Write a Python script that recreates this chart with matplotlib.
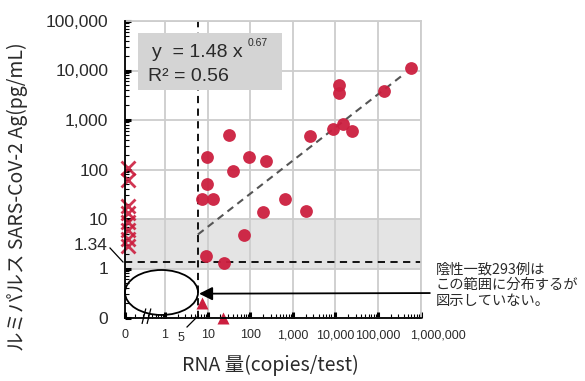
import numpy as np
import matplotlib
matplotlib.use("Agg")
import matplotlib.pyplot as plt
from matplotlib import font_manager
from matplotlib.patches import Ellipse, Rectangle
from matplotlib.lines import Line2D
from matplotlib.transforms import ScaledTranslation
from matplotlib.ticker import FixedLocator, LogLocator, NullFormatter, FixedFormatter

# ---------------- data ----------------
# positive cases (RNA copies/test, antigen pg/mL)
rna_pos = [5.8e5, 1.36e5, 1.2e4, 1.2e4, 8650, 1.49e4, 2.41e4, 2500, 32, 9.6, 93,
           230, 39, 9.6, 7.4, 13.3, 650, 198, 2015, 71, 9.1, 24]
ag_pos = [11200, 3830, 5060, 3490, 651, 822, 593, 470, 492, 177, 177,
          147, 92, 50, 25, 25, 25, 13.6, 14.3, 4.66, 1.83, 1.32]
# RNA = 0 but antigen detected (crosses)
rna_x = [0, 0, 0, 0, 0, 0, 0, 0]
ag_x = [106, 62, 18, 13, 8.5, 5.9, 4.0, 2.8]
# RNA detected, antigen below 1 / 0 (triangles)
rna_tri = [7.3, 23]
ag_tri = [0.2, 0]

fit_a, fit_b, fit_r2 = 1.48, 0.67, 0.56
fit_range = [5.9, 4.0e5]
ag_cutoff = 1.34
rna_cutoff_line = 5.9   # visual position of the "5" copies line
band = [1, 10]

x_ticks = [0, 1, 10, 100, 1e3, 1e4, 1e5, 1e6]
x_labels = ["0", "1", "10", "100", "1,000", "10,000", "100,000", "1,000,000"]
y_ticks = [0, 1, 10, 100, 1e3, 1e4, 1e5]
y_labels = ["0", "1", "10", "100", "1,000", "10,000", "100,000"]

ZERO_X = 0.115   # axis position used for value 0 on x
ZERO_Y = 0.1     # axis position used for value 0 on y
X_MARK_SHIFT = 1.2

def px(v):
    v = np.asarray(v, dtype=float)
    return np.where(v == 0, ZERO_X, v)

def py(v):
    v = np.asarray(v, dtype=float)
    return np.where(v == 0, ZERO_Y, v)

# ---------------- fonts ----------------
names = {f.name for f in font_manager.fontManager.ttflist}
JP = ["Noto Sans CJK JP", "DejaVu Sans"]
if "Liberation Sans Narrow" in names:
    XT_FAM, XT_SIZE = "Liberation Sans Narrow", 11
else:
    XT_FAM, XT_SIZE = "Liberation Sans", 9
YT_FAM, YT_SIZE = "Liberation Sans", 12.5

RED = "#cc1f3f"
TXT = "#2a2a2a"

fig = plt.figure(figsize=(5.85, 3.81), dpi=100)
ax = fig.add_axes([125 / 585, 1 - 318 / 381, 295.7 / 585, 297 / 381])
ax.set_xscale("log")
ax.set_yscale("log")
ax.set_xlim(ZERO_X, 1e6)
ax.set_ylim(ZERO_Y, 1e5)

# band and grid
ax.axhspan(band[0], band[1], color="#e4e4e4", zorder=0.2, lw=0)
ax.set_axisbelow(True)
ax.xaxis.set_major_locator(FixedLocator(px(x_ticks)))
ax.xaxis.set_major_formatter(FixedFormatter(x_labels))
ax.yaxis.set_major_locator(FixedLocator(py(y_ticks)))
ax.yaxis.set_major_formatter(FixedFormatter(y_labels))
ax.xaxis.set_minor_locator(LogLocator(base=10, subs=np.arange(2, 10), numticks=30))
ax.yaxis.set_minor_locator(LogLocator(base=10, subs=np.arange(2, 10), numticks=30))
ax.xaxis.set_minor_formatter(NullFormatter())
ax.yaxis.set_minor_formatter(NullFormatter())
ax.grid(which="major", color="#cdcdcd", lw=1.3, zorder=0.5)

for s in ["top", "right"]:
    ax.spines[s].set_color("#cdcdcd")
    ax.spines[s].set_linewidth(1.3)
for s in ["left", "bottom"]:
    ax.spines[s].set_color("black")
    ax.spines[s].set_linewidth(1.3)
    ax.spines[s].set_zorder(5)

ax.tick_params(which="major", direction="in", length=4, width=2.2, color="black")
ax.tick_params(which="minor", direction="in", length=3, width=0.8, color="black")
ax.tick_params(axis="x", which="major", pad=8, labelsize=XT_SIZE, labelcolor=TXT)
ax.tick_params(axis="y", which="major", pad=12, labelsize=YT_SIZE, labelcolor=TXT)
ax.tick_params(top=False, right=False, which="both")
xlabs = ax.get_xticklabels()
for lab in xlabs:
    lab.set_fontfamily(XT_FAM)
for lab in ax.get_yticklabels():
    lab.set_fontfamily(YT_FAM)
# last x label sits to the right of its gridline, as in the original
xlabs[-1].set_transform(xlabs[-1].get_transform()
                        + ScaledTranslation(17 / 100, 0, fig.dpi_scale_trans))

# cutoff lines
ax.plot([rna_cutoff_line, rna_cutoff_line], [ZERO_Y, 1e5], color="black", lw=1.3,
        ls=(0, (4, 3)), zorder=2)
ax.plot([ZERO_X, 1e6], [ag_cutoff, ag_cutoff], color="black", lw=1.3,
        ls=(0, (4, 3)), zorder=2)

# fit line
xf = np.logspace(np.log10(fit_range[0]), np.log10(fit_range[1]), 50)
ax.plot(xf, fit_a * xf ** fit_b, color="#555555", lw=1.5, ls=(0, (3.5, 2.5)), zorder=2.5)

# markers
ax.plot(px(rna_pos), py(ag_pos), "o", ms=9.2, color=RED, mec="none", alpha=0.95, zorder=4)
ax.plot(px(rna_x) * X_MARK_SHIFT, py(ag_x), "x", ms=9.5, mew=2.0, color=RED, alpha=0.9,
        zorder=4, clip_on=False)
ax.plot(px(rna_tri), py(ag_tri), "^", ms=9, color=RED, mec="none", zorder=4, clip_on=False)

# equation box
ax.add_patch(Rectangle((0.044, 0.768), 0.486, 0.192, transform=ax.transAxes,
                       facecolor="#d4d4d4", edgecolor="none", zorder=3))
ax.text(0.09, 0.895, "y  = %.2f x" % fit_a, transform=ax.transAxes, fontsize=14,
        family="Liberation Sans", color=TXT, va="center", ha="left", zorder=3.5)
ax.text(0.415, 0.925, "%.2f" % fit_b, transform=ax.transAxes, fontsize=7.5,
        family="Liberation Sans", color=TXT, va="center", ha="left", zorder=3.5)
ax.text(0.078, 0.813, "R² = %.2f" % fit_r2, transform=ax.transAxes, fontsize=14,
        family="Liberation Sans", color=TXT, va="center", ha="left", zorder=3.5)

# ellipse marking the negative cluster
ax.add_patch(Ellipse((0.1234, 0.0859), 0.247, 0.1515, transform=ax.transAxes,
                     facecolor="none", edgecolor="black", lw=1.3, zorder=3, clip_on=False))

# arrow and note
ax.annotate("", xy=(6.3, 0.31), xycoords="data",
            xytext=(1.031, 0.084), textcoords="axes fraction",
            arrowprops=dict(arrowstyle="-|>", color="black", lw=1.3, mutation_scale=20,
                            shrinkA=0, shrinkB=0), zorder=5, annotation_clip=False)
fig.text(436 / 585, 1 - 262 / 381, "陰性一致293例は\nこの範囲に分布するが\n図示していない。",
         family=JP, fontsize=10.3, color=TXT, va="top", ha="left", linespacing=1.2)

# extra labels with leaders
ax.text(-0.058, 0.245, "1.34", transform=ax.transAxes, fontsize=YT_SIZE,
        family=YT_FAM, color=TXT, ha="right", va="center")
ax.add_line(Line2D([-0.0507, -0.0068], [0.2357, 0.1886], transform=ax.transAxes,
                   color="black", lw=0.9, clip_on=False))
ax.text(0.189, -0.069, "5", transform=ax.transAxes, fontsize=XT_SIZE,
        family=XT_FAM, color=TXT, ha="center", va="center")
ax.add_line(Line2D([0.2097, 0.2435], [-0.0303, 0.0034], transform=ax.transAxes,
                   color="black", lw=0.9, clip_on=False))

# axis break marks
for dx in (0.0, 0.017):
    ax.add_line(Line2D([0.058 + dx, 0.070 + dx], [-0.018, 0.030], transform=ax.transAxes,
                       color="black", lw=0.9, clip_on=False, zorder=6))

# axis titles
fig.text(17 / 585, 1 - 197 / 381, "ルミパルス SARS-CoV-2 Ag(pg/mL)", rotation=90,
         family=JP, fontsize=14, color=TXT, ha="center", va="center")
fig.text(270 / 585, 1 - 365 / 381, "RNA 量(copies/test)", family=JP, fontsize=14,
         color=TXT, ha="center", va="center")

fig.savefig("out.png", dpi=100)
